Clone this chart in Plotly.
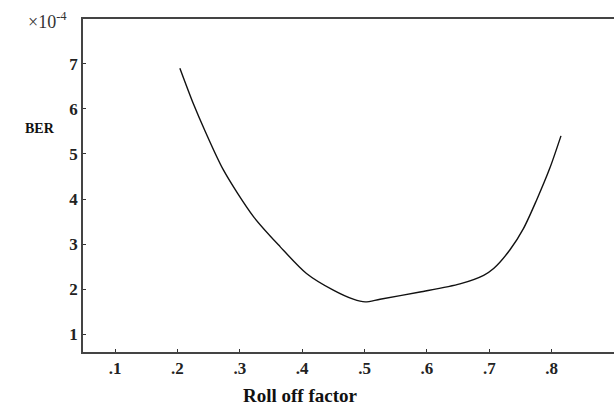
import plotly.graph_objects as go

# Roll off factor vs BER (x 1e-4)
roll_off = [0.204, 0.226, 0.244, 0.274, 0.322, 0.365, 0.407, 0.450, 0.482, 0.501,
            0.525, 0.589, 0.653, 0.691, 0.707, 0.733, 0.755, 0.776, 0.797, 0.815]
ber = [6.90, 6.10, 5.52, 4.64, 3.61, 2.94, 2.35, 1.98, 1.78, 1.72,
       1.78, 1.94, 2.12, 2.31, 2.46, 2.87, 3.35, 3.98, 4.68, 5.40]

x_tick_vals = [0.1, 0.2, 0.3, 0.4, 0.5, 0.6, 0.7, 0.8]
x_tick_text = [".1", ".2", ".3", ".4", ".5", ".6", ".7", ".8"]
y_tick_vals = [1, 2, 3, 4, 5, 6, 7]
y_tick_text = ["1", "2", "3", "4", "5", "6", "7"]

W, H = 614, 408
# plot area in page pixels: left 83, top 19, bottom 352, right 614
L, T = 83, 19
B = H - 352
R = 0
PW, PH = W - L - R, H - T - B


def px(xp):
    return (xp - L) / PW


def py(yp):
    return 1 - (yp - T) / PH


fig = go.Figure()
fig.add_trace(go.Scatter(
    x=roll_off, y=ber, mode="lines",
    line=dict(color="#111111", width=1.4, shape="spline", smoothing=0.8),
    showlegend=False, hoverinfo="skip",
))

tick_font = dict(family="Liberation Serif", size=17, color="#222222")

fig.update_layout(
    width=W, height=H,
    margin=dict(l=L, r=R, t=T, b=B, autoexpand=False),
    paper_bgcolor="white", plot_bgcolor="white",
    xaxis=dict(
        range=[0.0487, 0.90], tickvals=x_tick_vals,
        ticktext=["<b>%s</b>" % t for t in x_tick_text],
        ticks="inside", ticklen=3, tickwidth=1, tickcolor="#333333",
        showline=True, linecolor="#444444", linewidth=1.5, mirror=True,
        showgrid=False, zeroline=False, automargin=False,
        tickfont=tick_font, ticklabelstandoff=0,
    ),
    yaxis=dict(
        range=[0.61, 7.99], tickvals=y_tick_vals,
        ticktext=["<b>%s</b>" % t for t in y_tick_text],
        ticks="inside", ticklen=3, tickwidth=1, tickcolor="#333333",
        showline=True, linecolor="#444444", linewidth=1.5, mirror=False,
        showgrid=False, zeroline=False, automargin=False,
        tickfont=tick_font, ticklabelstandoff=0,
    ),
    annotations=[
        dict(text="<b>BER</b>", xref="paper", yref="paper",
             x=px(40), y=py(128),
             showarrow=False, xanchor="center", yanchor="middle",
             font=dict(family="Liberation Serif", size=14, color="#111111")),
        dict(text="<b>Roll off factor</b>", xref="paper", yref="paper",
             x=px(300), y=py(395),
             showarrow=False, xanchor="center", yanchor="middle",
             font=dict(family="Liberation Serif", size=19, color="#111111")),
        dict(text="×10<sup>-4</sup>", xref="paper", yref="paper",
             x=px(47), y=py(20),
             showarrow=False, xanchor="center", yanchor="middle",
             font=dict(family="Liberation Serif", size=18, color="#333333")),
    ],
)

fig.write_html(
    "out.html",
    config={"displayModeBar": False},
    post_script="document.body.style.margin='0';document.body.style.overflow='hidden';",
)
